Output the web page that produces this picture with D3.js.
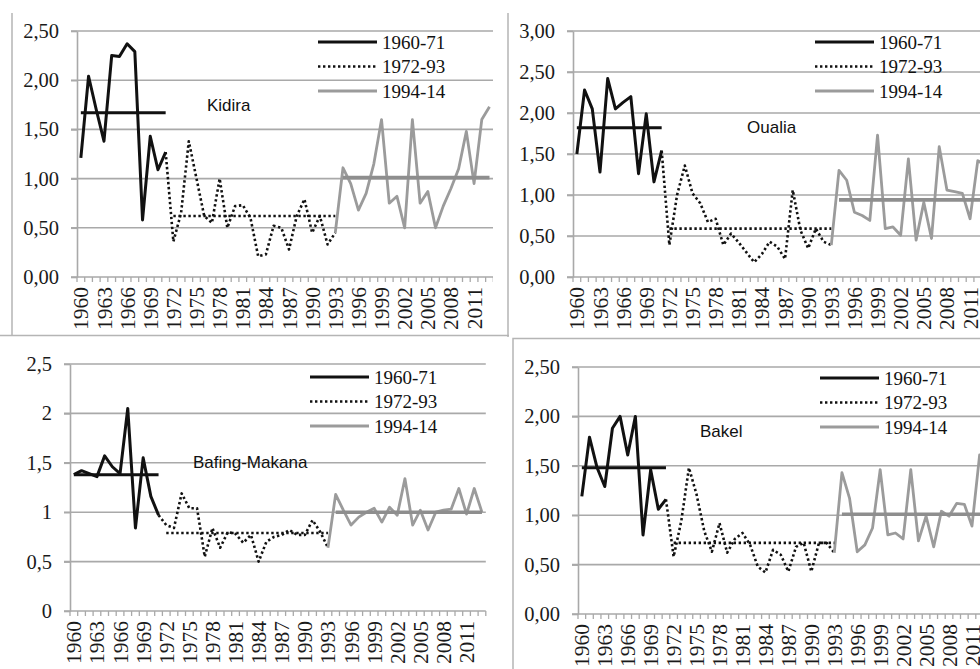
<!DOCTYPE html>
<html>
<head>
<meta charset="utf-8">
<script src="https://cdn.jsdelivr.net/npm/d3@7"></script>
<style>
  html, body { margin: 0; padding: 0; background: #fff; }
  svg { display: block; }
</style>
</head>
<body>
<svg id="chart" width="980" height="669"></svg>
<script>
// Years on the category axis
const years = [1960, 1961, 1962, 1963, 1964, 1965, 1966, 1967, 1968, 1969,
    1970, 1971, 1972, 1973, 1974, 1975, 1976, 1977, 1978, 1979,
    1980, 1981, 1982, 1983, 1984, 1985, 1986, 1987, 1988, 1989,
    1990, 1991, 1992, 1993, 1994, 1995, 1996, 1997, 1998, 1999,
    2000, 2001, 2002, 2003, 2004, 2005, 2006, 2007, 2008, 2009,
    2010, 2011, 2012, 2013];
const xLabelYears = [1960, 1963, 1966, 1969, 1972, 1975, 1978, 1981, 1984,
    1987, 1990, 1993, 1996, 1999, 2002, 2005, 2008, 2011];

const periods = ["1960-71", "1972-93", "1994-14"];
// first/last year of each drawn piece (each piece joins the previous one)
const segmentYears = [[1960, 1971], [1971, 1993], [1993, 2013]];
const meanYears = [[1960, 1971], [1972, 1993], [1994, 2013]];

// Station series, 1960-2013
const kidira = [1.21, 2.04, 1.70, 1.38, 2.25, 2.24, 2.37, 2.29, 0.58, 1.43,
    1.09, 1.27, 0.36, 0.65, 1.38, 1.00, 0.62, 0.55, 1.00, 0.50,
    0.72, 0.73, 0.60, 0.21, 0.23, 0.52, 0.50, 0.28, 0.62, 0.79,
    0.45, 0.62, 0.33, 0.45, 1.11, 0.95, 0.68, 0.85, 1.15, 1.60,
    0.75, 0.82, 0.50, 1.60, 0.75, 0.87, 0.50, 0.72, 0.90, 1.10,
    1.48, 0.95, 1.60, 1.73];
const oualia = [1.50, 2.28, 2.05, 1.28, 2.42, 2.05, 2.13, 2.20, 1.26, 1.99,
    1.16, 1.54, 0.39, 1.00, 1.36, 1.02, 0.90, 0.67, 0.71, 0.39,
    0.53, 0.42, 0.30, 0.18, 0.28, 0.43, 0.37, 0.22, 1.06, 0.57,
    0.35, 0.59, 0.43, 0.39, 1.30, 1.18, 0.79, 0.75, 0.69, 1.73,
    0.59, 0.61, 0.51, 1.44, 0.45, 0.91, 0.47, 1.59, 1.06, 1.04,
    1.02, 0.71, 1.42, 1.36];
const bafing = [1.38, 1.42, 1.39, 1.36, 1.57, 1.46, 1.39, 2.05, 0.84, 1.55,
    1.16, 0.97, 0.87, 0.84, 1.19, 1.04, 1.04, 0.55, 0.84, 0.64,
    0.80, 0.78, 0.69, 0.77, 0.50, 0.70, 0.75, 0.77, 0.82, 0.77,
    0.77, 0.92, 0.80, 0.64, 1.18, 1.02, 0.87, 0.95, 1.00, 1.04,
    0.90, 1.05, 0.97, 1.34, 0.87, 1.02, 0.82, 1.00, 1.02, 1.03,
    1.24, 0.98, 1.24, 1.00];
const bakel = [1.19, 1.79, 1.48, 1.29, 1.88, 2.00, 1.61, 2.00, 0.80, 1.46,
    1.06, 1.16, 0.58, 0.94, 1.48, 1.21, 0.84, 0.63, 0.92, 0.62,
    0.76, 0.82, 0.70, 0.48, 0.42, 0.65, 0.60, 0.43, 0.68, 0.72,
    0.43, 0.72, 0.72, 0.62, 1.43, 1.17, 0.63, 0.70, 0.87, 1.46,
    0.80, 0.82, 0.76, 1.46, 0.74, 0.99, 0.68, 1.04, 0.99, 1.12,
    1.11, 0.89, 1.61, 1.30];

// Period means
const kidiraMeans = [1.67, 0.62, 1.01];
const oualiaMeans = [1.82, 0.59, 0.94];
const bafingMeans = [1.38, 0.79, 1.00];
const bakelMeans = [1.48, 0.72, 1.01];

// Y tick values
const yTicks25 = [0, 0.5, 1, 1.5, 2, 2.5];
const yTicks30 = [0, 0.5, 1, 1.5, 2, 2.5, 3];

const comma2 = d => d.toFixed(2).replace(".", ",");
const commaShort = d => String(d).replace(".", ",");

const GRID = "#a9a9a9";
const GREY = "#9b9b9b";
const SERIF = '"Liberation Serif", "DejaVu Serif", serif';
const SANS = '"Liberation Sans", Arial, sans-serif';

const panels = [
    { id: "p1", name: "Kidira", values: kidira, means: kidiraMeans, ticks: yTicks25, fmt: comma2,
      clip: [0, 0, 493, 335], left: 77, top: 31, bottom: 277, step: 7.71,
      labelX: 207, labelY: 111, legendX: 318, legendY: 42 },
    { id: "p2", name: "Oualia", values: oualia, means: oualiaMeans, ticks: yTicks30, fmt: comma2,
      clip: [493, 0, 487, 336], left: 573, top: 31, bottom: 277, step: 7.71,
      labelX: 747, labelY: 133, legendX: 815, legendY: 42 },
    { id: "p3", name: "Bafing-Makana", values: bafing, means: bafingMeans, ticks: yTicks25, fmt: commaShort,
      clip: [0, 336, 508, 333], left: 70, top: 364, bottom: 611, step: 7.7,
      labelX: 193, labelY: 468, legendX: 310, legendY: 377 },
    { id: "p4", name: "Bakel", values: bakel, means: bakelMeans, ticks: yTicks25, fmt: comma2,
      clip: [513, 338, 467, 331], left: 578, top: 367, bottom: 614, step: 7.65,
      labelX: 700, labelY: 437, legendX: 820, legendY: 378 }
];

const svg = d3.select("#chart");
const defs = svg.append("defs");

// Panel frames
svg.append("line").attr("x1", 12).attr("x2", 12).attr("y1", 13).attr("y2", 336)
    .attr("stroke", "#b5b5b5").attr("stroke-width", 1.5);
svg.append("line").attr("x1", 0).attr("x2", 509).attr("y1", 335.5).attr("y2", 335.5)
    .attr("stroke", "#b5b5b5").attr("stroke-width", 1.5);
svg.append("line").attr("x1", 508).attr("x2", 508).attr("y1", 13).attr("y2", 337)
    .attr("stroke", "#b5b5b5").attr("stroke-width", 1.5);
svg.append("rect").attr("x", 513).attr("y", 338.5).attr("width", 500).attr("height", 360)
    .attr("fill", "none").attr("stroke", "#b5b5b5").attr("stroke-width", 1.5);

panels.forEach(p => {
    defs.append("clipPath").attr("id", "clip-" + p.id)
        .append("rect")
        .attr("x", p.clip[0]).attr("y", p.clip[1])
        .attr("width", p.clip[2]).attr("height", p.clip[3]);

    const g = svg.append("g").attr("clip-path", `url(#clip-${p.id})`);

    const x = d3.scaleBand()
        .domain(years)
        .range([p.left, p.left + years.length * p.step]);
    const xc = yr => x(yr) + x.bandwidth() / 2;
    const y = d3.scaleLinear()
        .domain([0, d3.max(p.ticks)])
        .range([p.bottom, p.top]);
    const right = p.left + years.length * p.step;

    // Gridlines
    g.append("g")
        .selectAll("line")
        .data(p.ticks)
        .join("line")
        .attr("x1", p.left - 6)
        .attr("x2", right)
        .attr("y1", d => y(d))
        .attr("y2", d => y(d))
        .attr("stroke", GRID)
        .attr("stroke-width", 1.6);

    // Y axis
    const yAxis = g.append("g")
        .attr("transform", `translate(${p.left},0)`)
        .call(d3.axisLeft(y)
            .tickValues(p.ticks)
            .tickSize(6)
            .tickSizeOuter(0)
            .tickPadding(12)
            .tickFormat(p.fmt));
    yAxis.select(".domain").attr("stroke", GRID).attr("stroke-width", 1.6);
    yAxis.selectAll(".tick line").attr("stroke", GRID).attr("stroke-width", 1.6);
    yAxis.selectAll(".tick text")
        .attr("fill", "#1a1a1a")
        .style("font-family", SERIF)
        .style("font-size", "20.5px");

    // X tick marks between categories
    g.append("g")
        .selectAll("line")
        .data(years.concat([null]))
        .join("line")
        .attr("x1", d => d === null ? right : x(d))
        .attr("x2", d => d === null ? right : x(d))
        .attr("y1", p.bottom)
        .attr("y2", p.bottom + 5)
        .attr("stroke", GRID)
        .attr("stroke-width", 1.3);

    // X labels
    g.append("g")
        .selectAll("text")
        .data(xLabelYears)
        .join("text")
        .attr("transform", d => `translate(${xc(d)},${p.bottom + 10}) rotate(-90)`)
        .attr("text-anchor", "end")
        .attr("dy", "0.35em")
        .attr("fill", "#1a1a1a")
        .style("font-family", SERIF)
        .style("font-size", "21.5px")
        .text(d => d);

    const line = d3.line()
        .x(d => xc(d.year))
        .y(d => y(d.v));

    const styles = [
        { stroke: "#111", width: 3, dash: null },
        { stroke: "#111", width: 2.6, dash: "2.4,2.6" },
        { stroke: GREY, width: 2.8, dash: null }
    ];

    // Series pieces
    segmentYears.forEach((range, i) => {
        const pts = years
            .map((yr, k) => ({ year: yr, v: p.values[k] }))
            .filter(d => d.year >= range[0] && d.year <= range[1]);
        g.append("path")
            .datum(pts)
            .attr("d", line)
            .attr("fill", "none")
            .attr("stroke", styles[i].stroke)
            .attr("stroke-width", styles[i].width)
            .attr("stroke-dasharray", styles[i].dash)
            .attr("stroke-linejoin", "round");
    });

    // Period means
    meanYears.forEach((range, i) => {
        const pts = years
            .filter(yr => yr >= range[0] && yr <= range[1])
            .map(yr => ({ year: yr, v: p.means[i] }));
        g.append("path")
            .datum(pts)
            .attr("d", line)
            .attr("fill", "none")
            .attr("stroke", i === 2 ? "#8e8e8e" : styles[i].stroke)
            .attr("stroke-width", i === 2 ? 3.6 : styles[i].width)
            .attr("stroke-dasharray", styles[i].dash);
    });

    // Station name
    g.append("text")
        .attr("x", p.labelX)
        .attr("y", p.labelY)
        .attr("fill", "#111")
        .style("font-family", SANS)
        .style("font-size", "17px")
        .text(p.name);

    // Legend
    const leg = g.append("g")
        .attr("transform", `translate(${p.legendX},${p.legendY})`);
    periods.forEach((label, i) => {
        const row = leg.append("g").attr("transform", `translate(0,${i * 24.5})`);
        row.append("line")
            .attr("x1", 0).attr("x2", 59)
            .attr("y1", 0).attr("y2", 0)
            .attr("stroke", styles[i].stroke)
            .attr("stroke-width", styles[i].width)
            .attr("stroke-dasharray", styles[i].dash);
        row.append("text")
            .attr("x", 64)
            .attr("dy", "0.35em")
            .attr("fill", "#111")
            .style("font-family", SERIF)
            .style("font-size", "19px")
            .text(label);
    });
});
</script>
</body>
</html>
